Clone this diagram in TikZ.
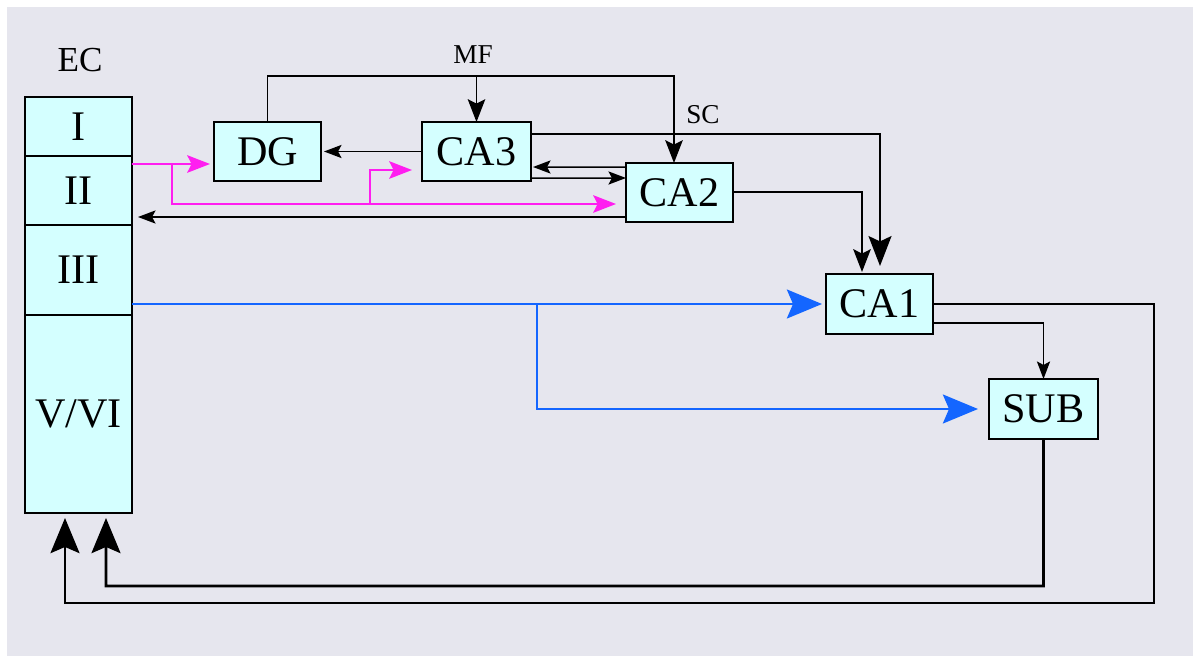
\documentclass[tikz,border=0pt]{standalone}
\usepackage{fontspec}
\setmainfont{Liberation Serif}
\usetikzlibrary{arrows.meta,calc}
\definecolor{bgGray}{HTML}{E6E6EE}
\definecolor{cellCyan}{HTML}{D4FFFF}
\definecolor{pathPink}{HTML}{FF1EF0}
\definecolor{pathBlue}{HTML}{1466FF}

\begin{document}
\begin{tikzpicture}[x=0.02cm, y=-0.02cm,
  area/.style={draw, line width=1.4pt, fill=cellCyan, inner sep=0pt, outer sep=0pt,
    minimum width=2.14cm, minimum height=1.18cm, font=\fontsize{24}{28}\selectfont},
  lbl/.style={font=\fontsize{15.5}{18}\selectfont},
  fib/.style={line width=0.85pt},
  tract/.style={line width=1.5pt},
  tipS/.style={-{Stealth[length=10pt,width=7.5pt,inset=2pt]}},
  tipM/.style={-{Stealth[length=13pt,width=10pt,inset=2.5pt]}},
  tipL/.style={-{Stealth[length=17pt,width=13pt,inset=3pt]}},
  tipXL/.style={-{Stealth[length=20pt,width=16.5pt,inset=3.5pt]}}]
\fill[white] (0,0) rectangle (1194,656);
\fill[bgGray] (7,7) rectangle (1193,656);

% entorhinal cortex layers
\node[font=\fontsize{20}{24}\selectfont] (ec) at (80,60) {EC};
\node[area] (ec1) at (78.5,126.5) {I};
\node[area, minimum height=1.38cm] (ec2) at (78.5,190.5) {II};
\node[area, minimum height=1.8cm] (ec3) at (78.5,270) {III};
\node[area, minimum height=3.96cm] (ec5) at (78.5,414) {V/VI};

% hippocampal fields
\node[area] (dg) at (267.5,151.5) {DG};
\node[area, minimum width=2.18cm] (ca3) at (476.5,151.5) {CA3};
\node[area] (ca2) at (679.5,192.5) {CA2};
\node[area, minimum height=1.2cm] (ca1) at (879.5,304) {CA1};
\node[area, minimum width=2.18cm, minimum height=1.2cm] (sub) at (1043.5,409) {SUB};

\node[lbl] (mf) at (473,55) {MF};
\node[lbl] (sc) at (703,115) {SC};

% mossy fibres
\coordinate (mfR) at ($(ca2.north)+(-5.5,-87)$);
\draw[fib, tipM] (dg.north) |- (mfR) -- ($(ca2.north)+(-5.5,0)$);
\draw[fib, tipM] (ca3.north |- mfR) -- (ca3.north);

% schaffer collaterals
\draw[tract, tipL] ($(ca3.east)+(0,-17.5)$) -| ($(ca1.north)+(0.5,-8)$);
\draw[fib, line width=1pt, tipM] ($(ca2.east)+(0,-0.5)$) -| ($(ca1.north)+(-17.5,-2)$);

% local loops
\draw[fib, tipS] (ca3.west) -- ($(dg.east)+(3,0)$);
\draw[fib, tipS] ($(ca2.west)+(0,-25.5)$) -- ($(ca3.east)+(2,15.5)$);
\draw[fib, tipS] ($(ca3.east)+(0,26.5)$) -- ($(ca2.west)+(0,-14.5)$);
\draw[fib, tipS] ($(ca2.west)+(0,24.5)$) -- ($(ec2.east)+(6,26.5)$);

% perforant path, layer II
\coordinate (ppA) at ($(ec2.east)+(40,-26.5)$);
\coordinate (ppB) at (370,204);
\draw[fib, pathPink, line width=1pt, tipM] ($(ec2.east)+(0,-26.5)$) -- ($(dg.west)+(-4,12.5)$);
\draw[fib, pathPink, line width=1pt, tipM] (ppA) |- ($(ca2.west)+(-10,11.5)$);
\draw[fib, pathPink, line width=1pt, tipM] (ppB) |- ($(ca3.west)+(-10,18.5)$);

% temporoammonic path, layer III
\coordinate (taA) at (537,304);
\draw[tract, pathBlue, line width=1.3pt, tipXL] ($(ec3.east)+(0,34)$) -- ($(ca1.west)+(-4,0)$);
\draw[tract, pathBlue, line width=1.3pt, tipXL] (taA) |- ($(sub.west)+(-11,0)$);

% output to subiculum and back to deep layers
\draw[fib, tipS] ($(ca1.east)+(0,19)$) -| (sub.north);
\draw[tract, tipXL] (ca1.east) -| (1154,603) -| ($(ec5.south)+(-13.5,5)$);
\draw[tract, tipXL] (sub.south) |- (106,586) -- ($(ec5.south)+(27.5,5)$);
\end{tikzpicture}
\end{document}
